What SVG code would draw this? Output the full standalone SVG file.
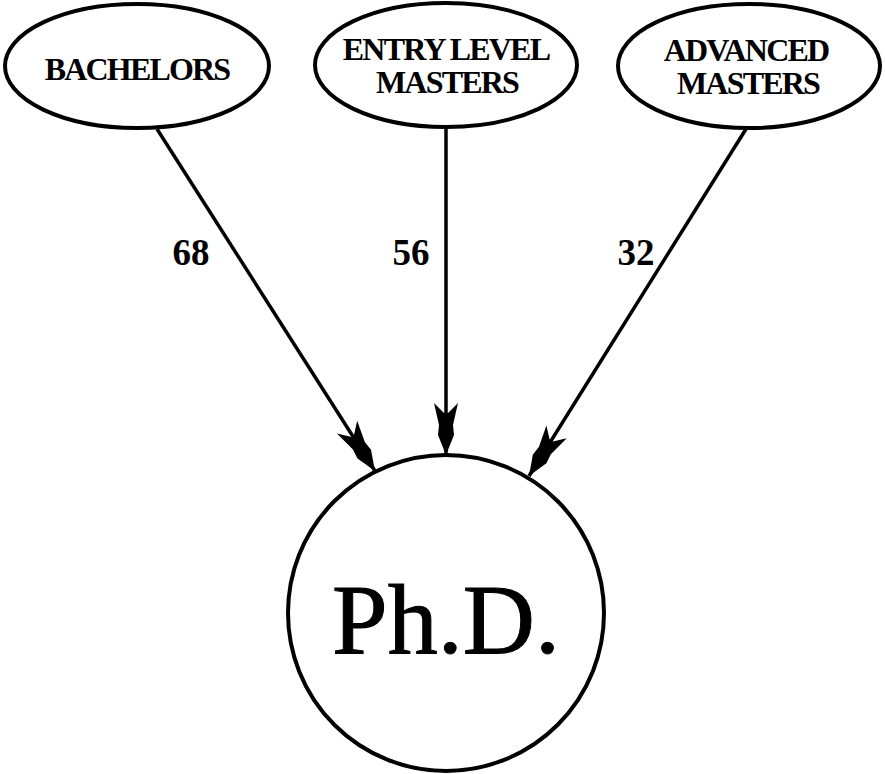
<svg xmlns="http://www.w3.org/2000/svg" width="885" height="774" viewBox="0 0 885 774">
<style>
.node{fill:#fff;stroke:#000;stroke-width:4}
.lbl{font-family:"Liberation Serif","DejaVu Serif","Times New Roman",serif;font-weight:bold;font-size:32px;fill:#000;text-anchor:middle;letter-spacing:-1.8px}
.num{font-family:"Liberation Serif","DejaVu Serif","Times New Roman",serif;font-weight:bold;font-size:37px;fill:#000;text-anchor:middle}
.big{font-family:"Liberation Serif","Times New Roman",serif;font-size:100px;fill:#000;stroke:#000;stroke-width:1;text-anchor:middle}
.edge{stroke:#000;stroke-width:3.5;fill:none;marker-end:url(#arr)}
</style>
<defs>
<marker id="arr" markerUnits="userSpaceOnUse" markerWidth="70" markerHeight="36" viewBox="-60 -18 70 36" refX="0" refY="0" orient="auto">
<path d="M0,0 L-20,-8 L-30,-7 L-52,-12 L-42,-2 L-42,2 L-52,12 L-30,7 L-20,8 Z" fill="#000"/>
</marker>
</defs>
<g id="connectors">
<line class="edge" x1="157" y1="129" x2="375" y2="471"/>
<line class="edge" x1="446" y1="129" x2="446" y2="455"/>
<line class="edge" x1="746" y1="129" x2="529" y2="476"/>
</g>
<g id="edge-labels">
<text class="num" x="191" y="265">68</text>
<text class="num" x="411" y="265">56</text>
<text class="num" x="636" y="265">32</text>
</g>
<g id="bachelors">
<ellipse class="node" cx="137" cy="66" rx="132" ry="62"/>
<text class="lbl" x="137" y="80">BACHELORS</text>
</g>
<g id="entry-level-masters">
<ellipse class="node" cx="446" cy="65" rx="131" ry="62"/>
<text class="lbl" x="446" y="60">ENTRY LEVEL</text>
<text class="lbl" x="447" y="93">MASTERS</text>
</g>
<g id="advanced-masters">
<ellipse class="node" cx="749" cy="66" rx="131" ry="62"/>
<text class="lbl" x="746" y="61">ADVANCED</text>
<text class="lbl" x="748" y="94">MASTERS</text>
</g>
<g id="phd">
<circle class="node" cx="446" cy="613" r="158"/>
<text class="big" x="446" y="653">Ph.D.</text>
</g>
</svg>
